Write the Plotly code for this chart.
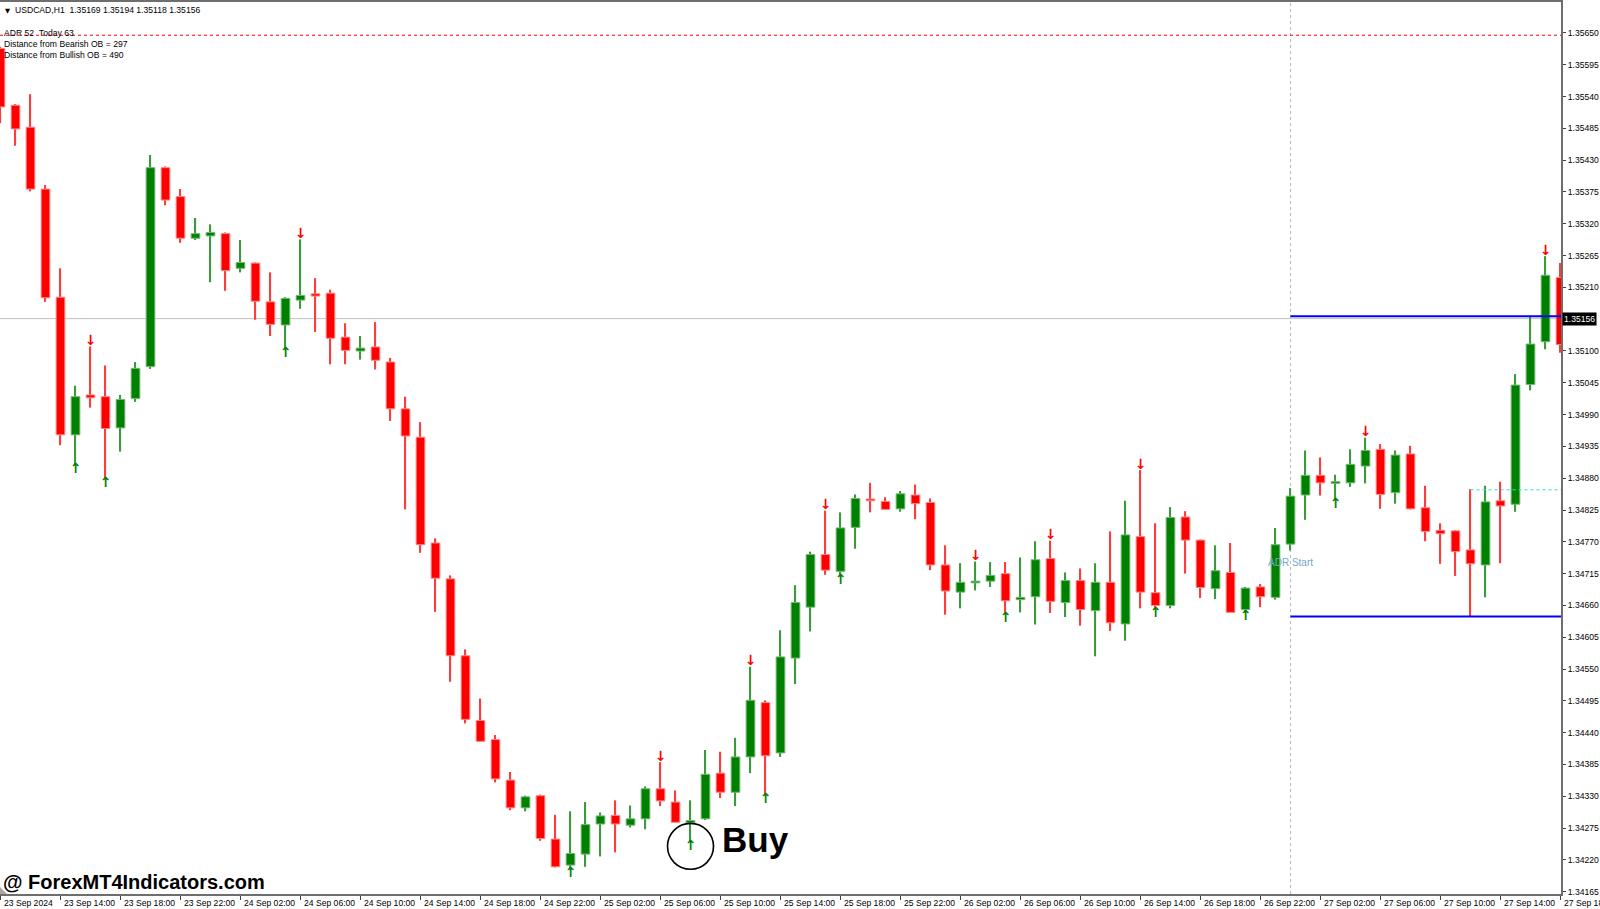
import plotly.graph_objects as go

# ---------------- data (USDCAD H1) ----------------
BAR_INDEX = list(range(105))

OPEN = [1.35623, 1.35525, 1.35487, 1.35380, 1.35193, 1.34955, 1.35024, 1.35021, 1.34967, 1.35018,
        1.35073, 1.35417, 1.35367, 1.35295, 1.35299, 1.35303, 1.35243, 1.35252, 1.35185, 1.35145,
        1.35188, 1.35199, 1.35200, 1.35124, 1.35100, 1.35107, 1.35081, 1.35000, 1.34951, 1.34768,
        1.34706, 1.34573, 1.34461, 1.34428, 1.34358, 1.34310, 1.34331, 1.34256, 1.34211, 1.34230,
        1.34282, 1.34297, 1.34280, 1.34291, 1.34343, 1.34320, 1.34284, 1.34291, 1.34370, 1.34337,
        1.34398, 1.34492, 1.34405, 1.34569, 1.34657, 1.34748, 1.34719, 1.34795, 1.34844, 1.34840,
        1.34827, 1.34851, 1.34838, 1.34730, 1.34683, 1.34699, 1.34702, 1.34715, 1.34670, 1.34675,
        1.34741, 1.34665, 1.34703, 1.34651, 1.34700, 1.34628, 1.34779, 1.34682, 1.34660, 1.34813,
        1.34773, 1.34689, 1.34717, 1.34653, 1.34692, 1.34674, 1.34766, 1.34851, 1.34885, 1.34871,
        1.34872, 1.34901, 1.34930, 1.34855, 1.34922, 1.34829, 1.34790, 1.34789, 1.34756, 1.34730,
        1.34841, 1.34835, 1.35042, 1.35116, 1.35227]
HIGH = [1.35626, 1.35527, 1.35544, 1.35387, 1.35243, 1.35040, 1.35108, 1.35075, 1.35024, 1.35081,
        1.35439, 1.35419, 1.35380, 1.35330, 1.35319, 1.35305, 1.35292, 1.35253, 1.35236, 1.35193,
        1.35293, 1.35226, 1.35206, 1.35148, 1.35126, 1.35150, 1.35088, 1.35021, 1.34977, 1.34776,
        1.34712, 1.34584, 1.34499, 1.34436, 1.34372, 1.34331, 1.34333, 1.34298, 1.34304, 1.34320,
        1.34302, 1.34323, 1.34314, 1.34347, 1.34389, 1.34340, 1.34323, 1.34410, 1.34407, 1.34431,
        1.34554, 1.34496, 1.34617, 1.34695, 1.34753, 1.34824, 1.34821, 1.34852, 1.34872, 1.34847,
        1.34858, 1.34869, 1.34845, 1.34764, 1.34733, 1.34736, 1.34735, 1.34735, 1.34743, 1.34771,
        1.34772, 1.34717, 1.34724, 1.34733, 1.34788, 1.34841, 1.34894, 1.34802, 1.34830, 1.34823,
        1.34774, 1.34764, 1.34768, 1.34692, 1.34697, 1.34794, 1.34863, 1.34928, 1.34916, 1.34886,
        1.34930, 1.34950, 1.34939, 1.34928, 1.34936, 1.34867, 1.34802, 1.34790, 1.34861, 1.34867,
        1.34874, 1.35060, 1.35160, 1.35264, 1.35252]
LOW = [1.35494, 1.35455, 1.35376, 1.35185, 1.34937, 1.34904, 1.35002, 1.34879, 1.34926, 1.35012,
       1.35069, 1.35352, 1.35287, 1.35292, 1.35219, 1.35204, 1.35236, 1.35154, 1.35126, 1.35105,
       1.35173, 1.35133, 1.35077, 1.35077, 1.35085, 1.35068, 1.34979, 1.34826, 1.34751, 1.34649,
       1.34528, 1.34456, 1.34424, 1.34354, 1.34306, 1.34304, 1.34253, 1.34207, 1.34205, 1.34208,
       1.34226, 1.34233, 1.34276, 1.34273, 1.34313, 1.34284, 1.34252, 1.34289, 1.34327, 1.34313,
       1.34370, 1.34333, 1.34398, 1.34524, 1.34615, 1.34713, 1.34711, 1.34758, 1.34821, 1.34825,
       1.34822, 1.34809, 1.34721, 1.34644, 1.34655, 1.34686, 1.34692, 1.34646, 1.34648, 1.34627,
       1.34647, 1.34640, 1.34625, 1.34572, 1.34616, 1.34599, 1.34655, 1.34654, 1.34655, 1.34715,
       1.34673, 1.34671, 1.34647, 1.34649, 1.34657, 1.34670, 1.34755, 1.34808, 1.34850, 1.34844,
       1.34865, 1.34871, 1.34827, 1.34836, 1.34826, 1.34771, 1.34732, 1.34711, 1.34640, 1.34674,
       1.34733, 1.34822, 1.35032, 1.35103, 1.35097]
CLOSE = [1.35522, 1.35484, 1.35380, 1.35192, 1.34955, 1.35021, 1.35019, 1.34966, 1.35016, 1.35070,
         1.35417, 1.35361, 1.35295, 1.35303, 1.35305, 1.35239, 1.35253, 1.35186, 1.35146, 1.35191,
         1.35196, 1.35195, 1.35122, 1.35101, 1.35105, 1.35084, 1.35000, 1.34953, 1.34765, 1.34707,
         1.34573, 1.34463, 1.34425, 1.34360, 1.34310, 1.34329, 1.34257, 1.34208, 1.34231, 1.34281,
         1.34296, 1.34282, 1.34291, 1.34343, 1.34322, 1.34285, 1.34288, 1.34368, 1.34337, 1.34398,
         1.34496, 1.34400, 1.34571, 1.34665, 1.34748, 1.34721, 1.34794, 1.34845, 1.34841, 1.34826,
         1.34853, 1.34836, 1.34730, 1.34685, 1.34700, 1.34702, 1.34712, 1.34668, 1.34674, 1.34739,
         1.34667, 1.34703, 1.34653, 1.34700, 1.34630, 1.34782, 1.34683, 1.34660, 1.34812, 1.34773,
         1.34691, 1.34720, 1.34648, 1.34690, 1.34675, 1.34765, 1.34849, 1.34885, 1.34872, 1.34874,
         1.34904, 1.34928, 1.34852, 1.34920, 1.34827, 1.34788, 1.34784, 1.34753, 1.34732, 1.34839,
         1.34832, 1.35041, 1.35112, 1.35231, 1.35111]

X_TICK_INDEX = [0, 4, 8, 12, 16, 20, 24, 28, 32, 36, 40, 44, 48, 52, 56, 60, 64, 68, 72, 76,
                80, 84, 88, 92, 96, 100, 104]
X_TICK_TEXT = ["23 Sep 2024", "23 Sep 14:00", "23 Sep 18:00", "23 Sep 22:00", "24 Sep 02:00",
               "24 Sep 06:00", "24 Sep 10:00", "24 Sep 14:00", "24 Sep 18:00", "24 Sep 22:00",
               "25 Sep 02:00", "25 Sep 06:00", "25 Sep 10:00", "25 Sep 14:00", "25 Sep 18:00",
               "25 Sep 22:00", "26 Sep 02:00", "26 Sep 06:00", "26 Sep 10:00", "26 Sep 14:00",
               "26 Sep 18:00", "26 Sep 22:00", "27 Sep 02:00", "27 Sep 06:00", "27 Sep 10:00",
               "27 Sep 14:00", "27 Sep 18:00"]

Y_TICK_VALUES = [1.34165, 1.34220, 1.34275, 1.34330, 1.34385, 1.34440, 1.34495, 1.34550,
                 1.34605, 1.34660, 1.34715, 1.34770, 1.34825, 1.34880, 1.34935, 1.34990,
                 1.35045, 1.35100, 1.35210, 1.35265, 1.35320, 1.35375, 1.35430,
                 1.35485, 1.35540, 1.35595, 1.35650]
Y_TICK_TEXT = ["1.34165", "1.34220", "1.34275", "1.34330", "1.34385", "1.34440", "1.34495",
               "1.34550", "1.34605", "1.34660", "1.34715", "1.34770", "1.34825", "1.34880",
               "1.34935", "1.34990", "1.35045", "1.35100", "1.35210", "1.35265", "1.35320",
               "1.35375", "1.35430", "1.35485", "1.35540", "1.35595", "1.35650"]

DOWN_ARROW_BARS = [6, 20, 44, 50, 55, 65, 70, 76, 91, 103]
UP_ARROW_BARS = [5, 7, 19, 38, 46, 51, 56, 67, 77, 83, 89]

SYMBOL = "USDCAD,H1"
HEADER_OHLC = ["1.35169", "1.35194", "1.35118", "1.35156"]
INFO_LINES = ["ADR 52  Today 63", "Distance from Bearish OB = 297", "Distance from Bullish OB = 490"]
BID = 1.35156
RED_LEVEL = 1.35646
ADR_TOP = 1.35160
ADR_BOTTOM = 1.34641
ADR_START_BAR = 86
ADR_LABEL_LEVEL = 1.34734
CYAN_LEVEL = 1.34860
CYAN_START_BAR = 98
BUY_BAR = 46
WATERMARK = "@ ForexMT4Indicators.com"

# ---------------- layout geometry ----------------
W, H = 1600, 909
M_L, M_R, M_T, M_B = 0, 39, 0, 15
PLOT_W = W - M_L - M_R
PLOT_H = H - M_T - M_B
X_RANGE = [-0.033, 104.033]
Y_RANGE = [1.341610, 1.357035]
PX = (Y_RANGE[1] - Y_RANGE[0]) / PLOT_H          # price per pixel
BAR_PX = 15.0                                     # pixels per bar

RED = "#ff0000"
GREEN = "#008000"
RED_EDGE = "#ff8a8a"
GREEN_EDGE = "#74b874"
RED_WICK = "#ff3c3c"
GREEN_WICK = "#3c9a3c"
FONT = "Liberation Sans, Arial, sans-serif"

fig = go.Figure()

up = [i for i in BAR_INDEX if CLOSE[i] >= OPEN[i]]
dn = [i for i in BAR_INDEX if CLOSE[i] < OPEN[i]]

# wicks (thin bars, under the bodies)
for idx, col in ((up, GREEN_WICK), (dn, RED_WICK)):
    fig.add_trace(go.Bar(
        x=idx, base=[LOW[i] for i in idx], y=[HIGH[i] - LOW[i] for i in idx],
        width=0.08, marker=dict(color=col, line=dict(width=0)),
        hoverinfo="skip", showlegend=False))

# bodies
for idx, fill, edge in ((up, GREEN, GREEN_EDGE), (dn, RED, RED_EDGE)):
    fig.add_trace(go.Bar(
        x=idx, base=[min(OPEN[i], CLOSE[i]) for i in idx],
        y=[abs(CLOSE[i] - OPEN[i]) for i in idx],
        width=0.58, marker=dict(color=fill, line=dict(color=edge, width=1)),
        hoverinfo="skip", showlegend=False))

# signal arrows
fig.add_trace(go.Scatter(
    x=DOWN_ARROW_BARS, y=[HIGH[i] + 5 * PX for i in DOWN_ARROW_BARS],
    mode="text", text=["↓"] * len(DOWN_ARROW_BARS), textposition="middle center",
    textfont=dict(family="DejaVu Sans", size=14, color=RED, weight="bold"),
    hoverinfo="skip", showlegend=False, cliponaxis=False))
fig.add_trace(go.Scatter(
    x=UP_ARROW_BARS, y=[LOW[i] - 5 * PX for i in UP_ARROW_BARS],
    mode="text", text=["↑"] * len(UP_ARROW_BARS), textposition="middle center",
    textfont=dict(family="DejaVu Sans", size=14, color=GREEN, weight="bold"),
    hoverinfo="skip", showlegend=False, cliponaxis=False))

shapes = []
# red dashed level
shapes.append(dict(type="line", xref="paper", yref="y", x0=0, x1=1, y0=RED_LEVEL, y1=RED_LEVEL,
                   line=dict(color=RED, width=1, dash="3px,3px"), layer="above"))
# bid line
shapes.append(dict(type="line", xref="paper", yref="y", x0=0, x1=1, y0=BID, y1=BID,
                   line=dict(color="#c0c0c0", width=1), layer="below"))
# ADR start vertical dotted
shapes.append(dict(type="line", xref="x", yref="paper", x0=ADR_START_BAR, x1=ADR_START_BAR, y0=0, y1=1,
                   line=dict(color="#b8b8b8", width=1, dash="3px,3px"), layer="below"))
# ADR range lines
for lvl in (ADR_TOP, ADR_BOTTOM):
    shapes.append(dict(type="line", xref="x", yref="y", x0=ADR_START_BAR, x1=X_RANGE[1], y0=lvl, y1=lvl,
                       line=dict(color="#0000ff", width=2), layer="above"))
# cyan dashed
shapes.append(dict(type="line", xref="x", yref="y", x0=CYAN_START_BAR, x1=X_RANGE[1],
                   y0=CYAN_LEVEL, y1=CYAN_LEVEL,
                   line=dict(color="#33dede", width=1, dash="3px,3px"), layer="above"))
# Buy circle around the signal candle
r_px = 23
cy = LOW[BUY_BAR] - 5 * PX
shapes.append(dict(type="circle", xref="x", yref="y",
                   x0=BUY_BAR - r_px / BAR_PX, x1=BUY_BAR + r_px / BAR_PX,
                   y0=cy - r_px * PX, y1=cy + r_px * PX,
                   line=dict(color="#000000", width=1.6), layer="above"))
# small grey chart-shift marker in the bottom-left corner
tri = 7
shapes.append(dict(type="path", xref="paper", yref="paper",
                   path=f"M 0 0 L 0 {tri / PLOT_H} L {tri / PLOT_W} 0 Z",
                   fillcolor="#a8a8a8", line=dict(width=0), layer="above"))

annotations = []
small = dict(family=FONT, size=8.6, color="#000000")
# header
annotations.append(dict(xref="paper", yref="paper", x=0, y=1, xanchor="left", yanchor="middle",
                        xshift=3, yshift=-9, showarrow=False, text="▼",
                        font=dict(family="DejaVu Sans", size=6.5, color="#000000")))
annotations.append(dict(xref="paper", yref="paper", x=0, y=1, xanchor="left", yanchor="middle",
                        xshift=13, yshift=-8, showarrow=False,
                        text=SYMBOL + "\u00a0\u00a0" + "\u00a0".join(HEADER_OHLC), font=small))
for k, line in enumerate(INFO_LINES):
    annotations.append(dict(xref="paper", yref="paper", x=0, y=1, xanchor="left", yanchor="middle",
                            xshift=2, yshift=-(31 + 11 * k), showarrow=False,
                            text=line.replace(" ", "\u00a0"), font=small))
# x tick labels (left-aligned after the tick like MT4)
for xv, tx in zip(X_TICK_INDEX, X_TICK_TEXT):
    annotations.append(dict(xref="x", yref="paper", x=xv, y=0, xanchor="left", yanchor="top",
                            xshift=1, yshift=-2, showarrow=False, text=tx, font=small))
# bid price box
annotations.append(dict(xref="paper", yref="y", x=1, y=BID, xanchor="left", yanchor="middle",
                        xshift=1, showarrow=False, text=f"{BID:.5f}", bgcolor="#000000",
                        borderpad=1, font=dict(family=FONT, size=8.6, color="#ffffff")))
# ADR Start label
annotations.append(dict(xref="x", yref="y", x=ADR_START_BAR, y=ADR_LABEL_LEVEL, xanchor="center",
                        yanchor="middle", showarrow=False, text="ADR Start",
                        font=dict(family=FONT, size=10, color="#79a6c9")))
# Buy label
annotations.append(dict(xref="x", yref="y", x=BUY_BAR + 2, y=cy, xanchor="left", yanchor="middle",
                        xshift=-1, yshift=7, showarrow=False, text="<b>Buy</b>",
                        font=dict(family=FONT, size=35, color="#000000")))
# watermark
annotations.append(dict(xref="paper", yref="paper", x=0, y=0, xanchor="left", yanchor="bottom",
                        xshift=1, yshift=-1, showarrow=False, text="<b>" + WATERMARK + "</b>",
                        font=dict(family=FONT, size=20, color="#000000")))

fig.update_layout(
    width=W, height=H,
    margin=dict(l=M_L, r=M_R, t=M_T, b=M_B, pad=0),
    paper_bgcolor="#ffffff", plot_bgcolor="#ffffff",
    barmode="overlay", showlegend=False,
    shapes=shapes, annotations=annotations,
    xaxis=dict(range=X_RANGE, showgrid=False, zeroline=False, showline=True, linecolor="#6e6e6e",
               linewidth=2, mirror=True, ticks="outside", ticklen=4, tickwidth=1, tickcolor="#404040",
               tickvals=X_TICK_INDEX, showticklabels=False, fixedrange=True),
    yaxis=dict(range=Y_RANGE, side="right", showgrid=False, zeroline=False, showline=True,
               linecolor="#6e6e6e", linewidth=2, ticks="outside", ticklen=3, tickwidth=1,
               tickcolor="#404040", tickvals=Y_TICK_VALUES, ticktext=Y_TICK_TEXT,
               tickfont=dict(family=FONT, size=8.6, color="#000000"), fixedrange=True,
               automargin=False, ticklabeloverflow="allow"),
)

fig.write_html("out.html", config={"displayModeBar": False},
               post_script="document.body.style.margin='0';document.body.style.overflow='hidden';")
